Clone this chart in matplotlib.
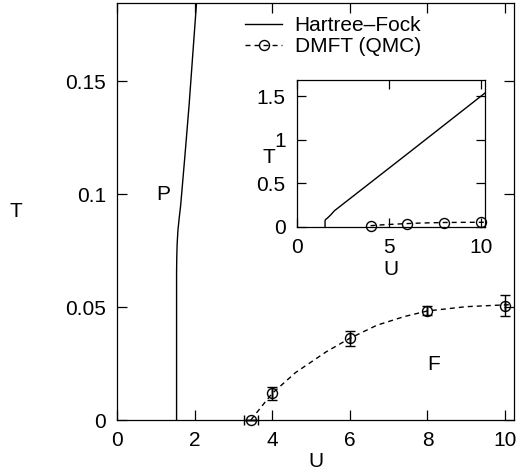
import matplotlib
matplotlib.use("Agg")
import matplotlib.pyplot as plt
from matplotlib.lines import Line2D

plt.rcParams['font.family'] = ['Liberation Sans', 'DejaVu Sans']
plt.rcParams['font.size'] = 15

# Hartree-Fock phase boundary (U, T)
hf_u = [1.535, 1.535, 1.54, 1.55, 1.57, 1.60, 1.64, 1.75, 1.86, 2.05, 6.0, 10.2]
hf_t = [0.0, 0.065, 0.072, 0.078, 0.084, 0.089, 0.095, 0.117, 0.14, 0.185, 0.84, 1.54]

# DMFT (QMC) points with error bars
qmc_u = [3.45, 4.0, 6.0, 8.0, 10.0]
qmc_t = [0.0, 0.0118, 0.0362, 0.0483, 0.0507]
qmc_uerr = [0.18, 0.0, 0.0, 0.0, 0.0]
qmc_terr = [0.0, 0.003, 0.0034, 0.002, 0.0048]

# dashed guide curve through the QMC points
fit_u = [3.45, 3.75, 4.0, 4.6, 5.4, 6.0, 6.7, 7.4, 8.0, 9.0, 10.0, 10.2]
fit_t = [0.0, 0.0065, 0.0118, 0.021, 0.0303, 0.0362, 0.042, 0.0458, 0.0483, 0.0502, 0.051, 0.0511]

main_xticks = [0, 2, 4, 6, 8, 10]
main_yticks = [0, 0.05, 0.1, 0.15]
main_ylabels = ['0', '0.05', '0.1', '0.15']
ins_xticks = [0, 5, 10]
ins_yticks = [0, 0.5, 1, 1.5]
ins_ylabels = ['0', '0.5', '1', '1.5']

W, H = 517, 476
fig = plt.figure(figsize=(W / 100, H / 100), dpi=100)

dash = (3.6, 2.9)
mk = dict(marker='o', ms=7.2, mfc='none', mec='black', mew=1.0)


def style(ax):
    for s in ax.spines.values():
        s.set_linewidth(0.9)
    ax.tick_params(direction='in', top=True, right=True, length=7, width=0.9, pad=8)


# main axes
ax = fig.add_axes([117 / W, 1 - 420 / H, 397 / W, 417 / H])
ax.plot(hf_u, hf_t, color='black', lw=1.0)
ax.plot(fit_u, fit_t, color='black', lw=1.0, dashes=dash)
ax.errorbar(qmc_u, qmc_t, xerr=qmc_uerr, yerr=qmc_terr, fmt='none', ecolor='black',
            elinewidth=1.0, capsize=3.3, capthick=1.0, clip_on=False)
ax.plot(qmc_u, qmc_t, ls='none', clip_on=False, **mk)
ax.set_xlim(0, 10.23)
ax.set_ylim(0, 0.1847)
ax.set_xticks(main_xticks)
ax.set_yticks(main_yticks)
ax.set_yticklabels(main_ylabels)
style(ax)
ax.set_xlabel('U', va='center')
ax.xaxis.set_label_coords(0.5, -0.10)
ax.set_ylabel('T', rotation=0, ha='center', va='center')
ax.yaxis.set_label_coords(-0.254, 0.50)
ax.text(1.19, 0.0997, 'P', ha='center', va='center')
ax.text(8.16, 0.0248, 'F', ha='center', va='center')

handles = [Line2D([], [], color='black', lw=1.0),
           Line2D([], [], color='black', lw=1.0, dashes=dash, **mk)]
ax.legend(handles, ['Hartree\u2013Fock', 'DMFT (QMC)'], loc='upper left',
          bbox_to_anchor=(245 / W, 1 - 16 / H), bbox_transform=fig.transFigure,
          frameon=False, borderpad=0, borderaxespad=0, handlelength=1.78,
          handletextpad=0.6, labelspacing=0.1)

# inset
ins = fig.add_axes([296.7 / W, 1 - 226.7 / H, 188.3 / W, 146.7 / H])
ins.plot(hf_u, hf_t, color='black', lw=1.0)
ins.plot(fit_u[2:], fit_t[2:], color='black', lw=1.0, dashes=dash)
ins.plot(qmc_u[1:], qmc_t[1:], ls='none', clip_on=False, **mk)
ins.set_xlim(0, 10.2)
ins.set_ylim(0, 1.69)
ins.set_xticks(ins_xticks)
ins.set_yticks(ins_yticks)
ins.set_yticklabels(ins_ylabels)
style(ins)
ins.tick_params(length=6.5)
ins.set_xlabel('U', va='center')
ins.xaxis.set_label_coords(0.50, -0.295)
ins.set_ylabel('T', rotation=0, ha='center', va='center')
ins.yaxis.set_label_coords(-0.15, 0.47)

fig.savefig('out.png', dpi=100)
